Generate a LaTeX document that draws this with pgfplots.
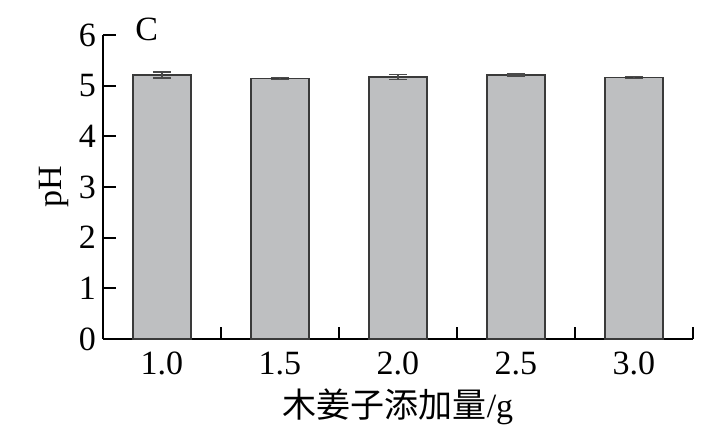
\documentclass[border=0pt]{standalone}
\usepackage{fontspec}
\setmainfont{Liberation Serif}
\newfontfamily\cjk{Noto Sans CJK SC}
\usepackage{pgfplots}
\pgfplotsset{compat=1.18}
\definecolor{barfill}{HTML}{BEBFC1}
\definecolor{baredge}{HTML}{3A3A3A}
\definecolor{errc}{HTML}{4A4A4A}
\newcommand\f{\fontsize{17}{20}\selectfont}
\begin{document}
\begin{tikzpicture}
\path[use as bounding box] (-51.5pt,-50.5pt) rectangle (310.5pt,169.5pt);
\begin{axis}[
  scale only axis,
  width=295pt, height=152pt,
  xmin=-0.5, xmax=4.5,
  ymin=0, ymax=6,
  axis x line*=bottom, axis y line*=left,
  axis line style={line width=1pt, -},
  ytick={0,1,2,3,4,5,6},
  xtick={0,1,2,3,4},
  xticklabels={1.0,1.5,2.0,2.5,3.0},
  minor xtick={0.5,1.5,2.5,3.5,4.5},
  major x tick style={draw=none},
  minor x tick style={line width=1pt, black},
  minor tick length=6pt,
  y tick style={line width=1pt, black},
  major tick length=6.5pt,
  tick align=inside,
  /pgf/number format/assume math mode=true,
  tick label style={font=\f},
  yticklabel style={xshift=0pt},
  xticklabel style={yshift=-3pt},
  xlabel={{\cjk 木姜子添加量}/g},
  ylabel={pH},
  label style={font=\f},
  xlabel style={yshift=0pt},
  ylabel style={yshift=-2pt},
  clip=false,
]
\addplot[ybar, bar width=0.49, fill=barfill, draw=baredge, line width=0.7pt,
  error bars/.cd, y dir=both, y explicit,
  error bar style={line width=0.8pt, errc},
  error mark options={rotate=90, mark size=4.5pt, line width=0.8pt, errc}]
  coordinates {
  (0,5.21) +- (0,0.055)
  (1,5.14) +- (0,0.02)
  (2,5.17) +- (0,0.05)
  (3,5.21) +- (0,0.015)
  (4,5.16) +- (0,0.02)
  };
\node[font=\f, anchor=center] at (axis cs:-0.13,6.12) {C};
\end{axis}
\end{tikzpicture}
\end{document}
